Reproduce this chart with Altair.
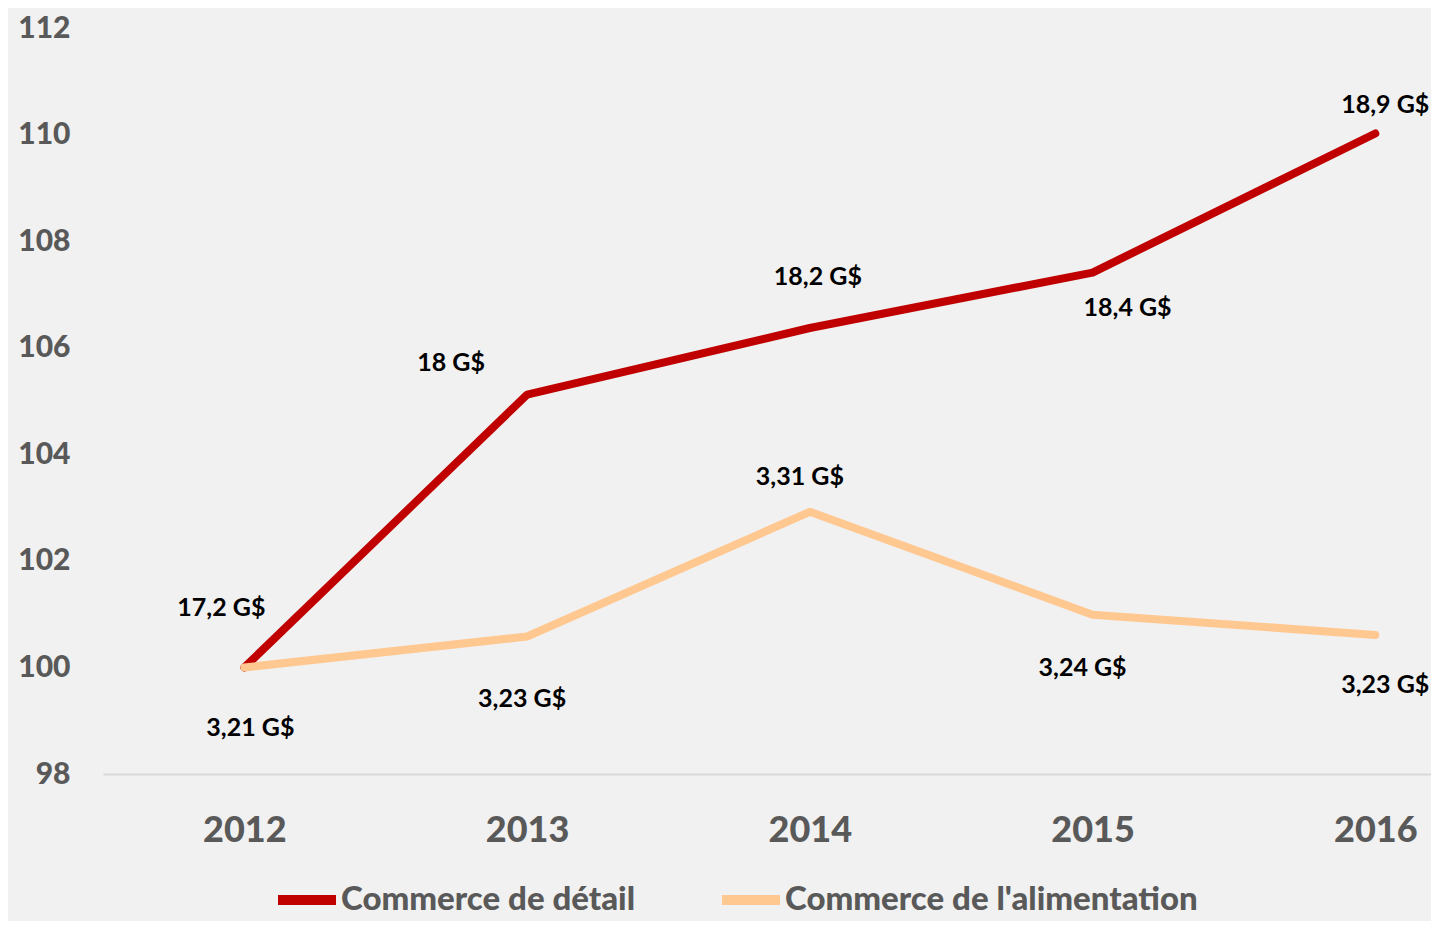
import altair as alt
import pandas as pd

# ---- data ----
years = [2012, 2013, 2014, 2015, 2016]
series_names = ["Commerce de détail", "Commerce de l'alimentation"]
retail_index = [100.0, 105.12, 106.37, 107.41, 110.02]
food_index = [100.0, 100.58, 102.92, 100.99, 100.61]
retail_labels = ["17,2 G$", "18 G$", "18,2 G$", "18,4 G$", "18,9 G$"]
food_labels = ["3,21 G$", "3,23 G$", "3,31 G$", "3,24 G$", "3,23 G$"]
y_ticks = [98, 100, 102, 104, 106, 108, 110, 112]

# ---- style / layout ----
colors = ["#C00000", "#FFC891"]
retail_offsets = [(-23, -59), (-76, -32), (8, -51), (35, 35), (10, -29)]
food_offsets = [(6, 61), (-5, 62), (-10, -35), (-10, 53), (10, 50)]
FONT = "Lato"

rows = []
for s, vals, labs in [(series_names[0], retail_index, retail_labels),
                      (series_names[1], food_index, food_labels)]:
    for y, v, l in zip(years, vals, labs):
        rows.append({"year": y, "index": v, "series": s, "label": l})
df = pd.DataFrame(rows)

x_enc = alt.X(
    "year:Q",
    scale=alt.Scale(domain=[2011.5, 2016.197], nice=False, zero=False),
    axis=alt.Axis(
        values=years, format="d", title=None, grid=False, ticks=False,
        domainColor="#D9D9D9", domainWidth=2,
        labelFont=FONT, labelFontSize=36, labelFontWeight=900,
        labelColor="#595959", labelPadding=56, labelBaseline="middle",
        labelFlush=False, labelOverlap=False,
    ),
)
y_enc = alt.Y(
    "index:Q",
    scale=alt.Scale(domain=[98, 112], nice=False, zero=False),
    axis=alt.Axis(
        values=y_ticks, title=None, grid=False, ticks=False, domain=False,
        labelFont=FONT, labelFontSize=30, labelFontWeight=900,
        labelColor="#595959", labelPadding=33, labelFlush=False,
        labelOverlap=False,
    ),
)
color_enc = alt.Color(
    "series:N",
    scale=alt.Scale(domain=series_names, range=colors),
    sort=series_names,
    legend=alt.Legend(
        title=None, orient="none", legendX=170, legendY=838,
        direction="horizontal", symbolType="stroke", symbolSize=3364,
        symbolStrokeWidth=10, labelFont=FONT, labelFontSize=33,
        labelFontWeight=900, labelColor="#595959", labelOffset=0,
        columnPadding=66, padding=0, labelLimit=600,
    ),
)

base = alt.Chart(df)
layers = []
for s in series_names:
    layers.append(
        base.transform_filter(alt.datum.series == s)
        .mark_line(strokeWidth=8, strokeCap="round", strokeJoin="round")
        .encode(x=x_enc, y=y_enc, color=color_enc)
    )

for s, offs in [(series_names[0], retail_offsets), (series_names[1], food_offsets)]:
    for yr, (dx, dy) in zip(years, offs):
        layers.append(
            base.transform_filter((alt.datum.series == s) & (alt.datum.year == yr))
            .mark_text(dx=dx, dy=dy, font=FONT, fontSize=25, fontWeight="bold",
                       color="#000000")
            .encode(x=x_enc, y=y_enc, text="label:N")
        )

chart = (
    alt.layer(*layers)
    .properties(
        width=1328, height=746,
        autosize=alt.AutoSizeParams(type="none"),
        padding={"left": 95, "top": 20, "right": 0, "bottom": 147},
        background="#F1F1F1",
    )
    .configure_view(stroke=None)
)

chart.save("out.html", embed_options={"renderer": "svg", "actions": False})
